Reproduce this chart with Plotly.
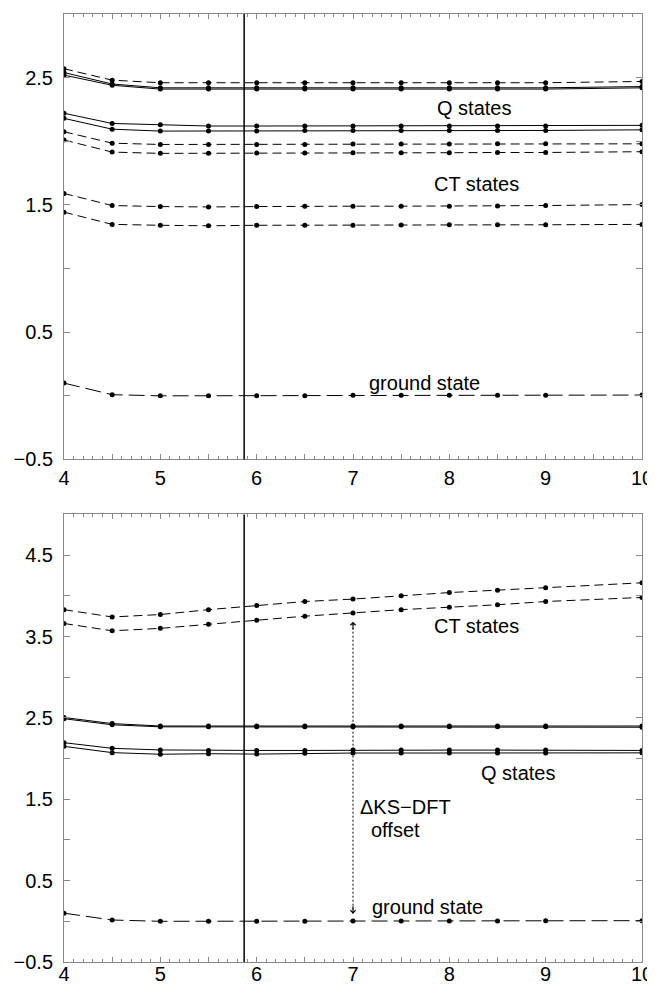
import plotly.graph_objects as go

# ---------------- data ----------------
x_vals = [4, 4.5, 5, 5.5, 6, 6.5, 7, 7.5, 8, 8.5, 9, 10]

# top panel
top_dash_hi = [2.57, 2.48, 2.46, 2.46, 2.46, 2.46, 2.46, 2.46, 2.46, 2.46, 2.46, 2.47]
top_q1 = [2.54, 2.45, 2.42, 2.42, 2.42, 2.42, 2.42, 2.42, 2.42, 2.42, 2.42, 2.43]
top_q2 = [2.52, 2.44, 2.41, 2.41, 2.41, 2.41, 2.41, 2.41, 2.41, 2.41, 2.41, 2.42]
top_q3 = [2.22, 2.14, 2.13, 2.12, 2.12, 2.12, 2.12, 2.12, 2.12, 2.12, 2.12, 2.125]
top_q4 = [2.18, 2.095, 2.08, 2.08, 2.08, 2.085, 2.085, 2.085, 2.085, 2.085, 2.085, 2.09]
top_ct1 = [2.075, 1.985, 1.975, 1.975, 1.975, 1.975, 1.978, 1.978, 1.978, 1.98, 1.98, 1.98]
top_ct2 = [2.01, 1.915, 1.905, 1.905, 1.907, 1.907, 1.91, 1.91, 1.91, 1.912, 1.912, 1.918]
top_ct3 = [1.59, 1.495, 1.487, 1.484, 1.487, 1.49, 1.49, 1.49, 1.49, 1.492, 1.495, 1.503]
top_ct4 = [1.443, 1.347, 1.34, 1.336, 1.34, 1.34, 1.34, 1.342, 1.344, 1.344, 1.344, 1.347]
top_ground = [0.10, 0.009, 0.0, 0.0, 0.0, 0.0, 0.004, 0.004, 0.004, 0.005, 0.005, 0.006]

# bottom panel
bot_ct1 = [3.83, 3.74, 3.77, 3.83, 3.88, 3.93, 3.96, 4.00, 4.04, 4.07, 4.10, 4.16]
bot_ct2 = [3.66, 3.57, 3.60, 3.65, 3.70, 3.75, 3.79, 3.83, 3.86, 3.89, 3.93, 3.98]
bot_q1 = [2.505, 2.43, 2.40, 2.40, 2.40, 2.40, 2.40, 2.40, 2.40, 2.40, 2.40, 2.40]
bot_q2 = [2.49, 2.415, 2.39, 2.39, 2.39, 2.39, 2.39, 2.39, 2.39, 2.39, 2.39, 2.385]
bot_q3 = [2.195, 2.126, 2.106, 2.10, 2.10, 2.10, 2.104, 2.104, 2.104, 2.104, 2.104, 2.10]
bot_q4 = [2.15, 2.073, 2.053, 2.06, 2.055, 2.065, 2.068, 2.068, 2.068, 2.068, 2.068, 2.07]
bot_ground = [0.10, 0.016, 0.0, 0.0, 0.0, 0.002, 0.004, 0.004, 0.004, 0.004, 0.006, 0.008]

ref_x = 5.87          # vertical reference line
offset_x = 7          # where the ΔKS-DFT offset arrow is drawn

x_tickvals = [4, 4.5, 5, 5.5, 6, 6.5, 7, 7.5, 8, 8.5, 9, 9.5, 10]
x_ticktext = ["4", "", "5", "", "6", "", "7", "", "8", "", "9", "", "10"]
top_y_tickvals = [-0.5, 0, 0.5, 1, 1.5, 2, 2.5, 3]
top_y_ticktext = ["−0.5", "", "0.5", "", "1.5", "", "2.5", ""]
bot_y_tickvals = [-0.5, 0, 0.5, 1, 1.5, 2, 2.5, 3, 3.5, 4, 4.5, 5]
bot_y_ticktext = ["−0.5", "", "0.5", "", "1.5", "", "2.5", "", "3.5", "", "4.5", ""]

# ---------------- styles ----------------
FONT = "Liberation Sans, Arial, Helvetica, sans-serif"
CT_DASH = "9px,5px"
GS_DASH = "16px,6px"

fig = go.Figure()


def add_line(y, dash, xa, ya):
    fig.add_trace(go.Scatter(
        x=x_vals, y=y, mode="lines+markers", xaxis=xa, yaxis=ya,
        line=dict(color="black", width=1, dash=dash),
        marker=dict(color="black", size=5), showlegend=False, hoverinfo="skip"))


for s in [top_dash_hi, top_ct1, top_ct2, top_ct3, top_ct4]:
    add_line(s, CT_DASH, "x", "y")
for s in [top_q1, top_q2, top_q3, top_q4]:
    add_line(s, "solid", "x", "y")
add_line(top_ground, GS_DASH, "x", "y")

for s in [bot_ct1, bot_ct2]:
    add_line(s, CT_DASH, "x2", "y2")
for s in [bot_q1, bot_q2, bot_q3, bot_q4]:
    add_line(s, "solid", "x2", "y2")
add_line(bot_ground, GS_DASH, "x2", "y2")

# offset arrow (dotted) between ground state and lower CT state at x = 7
i7 = x_vals.index(offset_x)
y_lo = bot_ground[i7] + 0.09
y_hi = bot_ct2[i7] - 0.11
fig.add_trace(go.Scatter(
    x=[offset_x, offset_x], y=[y_lo, y_hi], mode="lines", xaxis="x2", yaxis="y2",
    line=dict(color="black", width=1, dash="2px,2px"), showlegend=False, hoverinfo="skip"))

axis_common = dict(showline=True, linecolor="#888", linewidth=1, mirror="allticks",
                   ticks="inside", tickcolor="#888", showgrid=False, zeroline=False,
                   automargin=False,
                   tickfont=dict(family=FONT, size=20, color="black"))

DOM_TOP = [0.5301, 1.0]
DOM_BOT = [0.0, 0.4721]

# the page adds an 8px body margin, so the figure is 8px smaller than the window
fig.update_layout(
    width=647, height=976,
    margin=dict(l=56, r=13, t=6, b=22),
    paper_bgcolor="white", plot_bgcolor="white",
    font=dict(family=FONT, size=20, color="black"),
    xaxis=dict(range=[4, 10], domain=[0, 1], anchor="y", tickvals=x_tickvals, ticktext=x_ticktext,
               ticklen=5, ticklabelstandoff=1,
               minor=dict(dtick=0.1, tick0=4, ticklen=3, ticks="inside", tickcolor="#888"),
               **axis_common),
    yaxis=dict(range=[-0.5, 3.0], domain=DOM_TOP, anchor="x", tickvals=top_y_tickvals,
               ticktext=top_y_ticktext, ticklen=6, ticklabelstandoff=6, **axis_common),
    xaxis2=dict(range=[4, 10], domain=[0, 1], anchor="y2", tickvals=x_tickvals, ticktext=x_ticktext,
                ticklen=5, ticklabelstandoff=-6,
                minor=dict(dtick=0.1, tick0=4, ticklen=3, ticks="inside", tickcolor="#888"),
                **axis_common),
    yaxis2=dict(range=[-0.5, 5.0], domain=DOM_BOT, anchor="x2", tickvals=bot_y_tickvals,
                ticktext=bot_y_ticktext, ticklen=6, ticklabelstandoff=6, **axis_common),
)

# vertical reference lines
for xr, yr in [("x", "y domain"), ("x2", "y2 domain")]:
    fig.add_shape(type="line", xref=xr, yref=yr, x0=ref_x, x1=ref_x, y0=0, y1=1,
                  line=dict(color="black", width=1.5))

# arrowheads of the offset arrow
fig.add_annotation(x=offset_x, y=y_hi, xref="x2", yref="y2", text="", showarrow=True,
                   ax=0, ay=9, arrowhead=4, arrowsize=1.0, arrowwidth=1, arrowcolor="black")
fig.add_annotation(x=offset_x, y=y_lo, xref="x2", yref="y2", text="", showarrow=True,
                   ax=0, ay=-9, arrowhead=4, arrowsize=1.0, arrowwidth=1, arrowcolor="black")

# labels
def label(text, x, y, xr, yr, anchor="center"):
    fig.add_annotation(x=x, y=y, xref=xr, yref=yr, text=text, showarrow=False,
                       xanchor=anchor, yanchor="middle",
                       font=dict(family=FONT, size=20, color="black"))

label("Q states", 8.26, 2.258, "x", "y")
label("CT states", 8.28, 1.666, "x", "y")
label("ground state", 7.74, 0.10, "x", "y")

label("CT states", 8.285, 3.627, "x2", "y2")
label("Q states", 8.71, 1.817, "x2", "y2")
label("ground state", 7.77, 0.18, "x2", "y2")
label("ΔKS−DFT", 7.05, 1.41, "x2", "y2", anchor="left")
label("offset", 7.166, 1.12, "x2", "y2", anchor="left")

fig.write_html("out.html")
